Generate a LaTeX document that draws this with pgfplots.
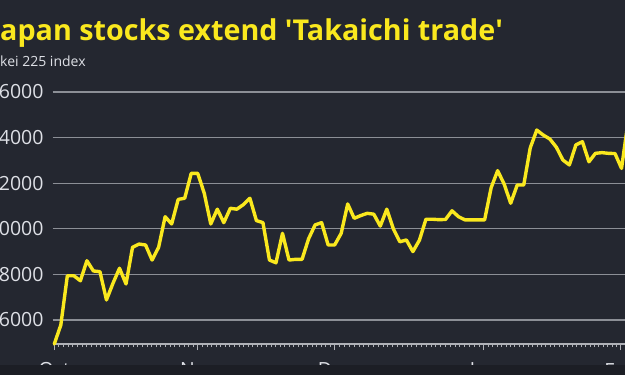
\documentclass[border=0pt]{standalone}
\usepackage{fontspec}
\setmainfont{Open Sans}
\usepackage{pgfplots}
\pgfplotsset{compat=1.18}
\definecolor{bg}{RGB}{36,39,48}
\definecolor{band}{RGB}{28,30,37}
\definecolor{ylw}{RGB}{250,232,30}
\definecolor{grd}{RGB}{140,143,150}
\definecolor{txt}{RGB}{222,224,230}
\definecolor{axl}{RGB}{175,177,183}
\begin{document}
\begin{tikzpicture}[x=1pt,y=1pt]
\useasboundingbox (0,0) rectangle (625,-375);
\clip (0,0) rectangle (625,-375);
\fill[bg] (0,0) rectangle (625,-375);
\node[anchor=base west, inner sep=0pt, text=ylw, font=\bfseries\fontsize{28.7}{30}\selectfont] at (0,-40) {\llap{J}apan stocks extend \textquotesingle Takaichi trade\textquotesingle};
\node[anchor=base west, inner sep=0pt, text=txt, font=\fontsize{14}{15}\selectfont] at (0,-66.5) {\llap{Nik}kei 225 index};
\begin{axis}[
  at={(52.67pt,-344pt)}, anchor=south west,
  scale only axis, width=578.65pt, height=252pt,
  xmin=-0.25, xmax=88.5, ymin=44947, ymax=56000,
  clip=false,
  axis x line*=bottom, axis y line*=left,
  y axis line style={draw=none},
  x axis line style={draw=axl, line width=1.4pt},
  ytick={46000,48000,50000,52000,54000,56000},
  scaled y ticks=false,
  ymajorgrids, grid style={grd, line width=1.3pt},
  ytick style={draw=none},
  yticklabel style={font=\fontsize{19.5}{20}\selectfont, text=txt, anchor=east, inner sep=0pt, xshift=-3pt},
  /pgf/number format/1000 sep={},
  /pgf/number format/assume math mode=true,
  xtick={0,22.04,43.05,65.9,86.9},
  xticklabels={Oct,Nov,Dec,Jan,Feb},
  minor xtick={0.711,1.422,...,21.5,22.74,23.44,...,42.5,43.787,44.524,...,65.3,66.577,67.255,...,86.4,87.577,88.25},
  major tick length=6pt, minor tick length=3pt,
  tick align=outside,
  xtick style={draw=axl, line width=1pt},
  xticklabel style={font=\fontsize{19.5}{20}\selectfont, text=txt, anchor=north, inner sep=0pt, yshift=-12pt},
]
\addplot[ylw, line width=3.4pt, line join=round, line cap=round, mark=none] coordinates {
(0,44950) (1,45780) (2,47940) (3,47940) (4,47720) (5,48600) (6,48150) (7,48120)
(8,46880) (9,47610) (10,48270) (11,47580) (12,49190) (13,49330) (14,49290) (15,48630)
(16,49190) (17,50530) (18,50210) (19,51290) (20,51340) (21,52430) (22,52430) (23,51560)
(24,50210) (25,50860) (26,50270) (27,50900) (28,50860) (29,51060) (30,51340) (31,50360)
(32,50270) (33,48630) (34,48510) (35,49800) (36,48630) (37,48660) (38,48660) (39,49560)
(40,50170) (41,50270) (42,49290) (43,49290) (44,49800) (45,51090) (46,50460) (47,50580)
(48,50680) (49,50640) (50,50120) (51,50860) (52,50000) (53,49430) (54,49510) (55,49000)
(56,49500) (57,50420) (58,50420) (59,50400) (60,50410) (61,50790) (62,50530) (63,50390)
(64,50390) (65,50390) (66,50390) (67,51800) (68,52550) (69,51960) (70,51120) (71,51920)
(72,51920) (73,53550) (74,54330) (75,54110) (76,53940) (77,53580) (78,53020) (79,52800)
(80,53680) (81,53820) (82,52940) (83,53310) (84,53340) (85,53310) (86,53300) (87,52650)
(88,54700)
};
\end{axis}
\fill[band] (0,-365) rectangle (625,-375);
\end{tikzpicture}
\end{document}
